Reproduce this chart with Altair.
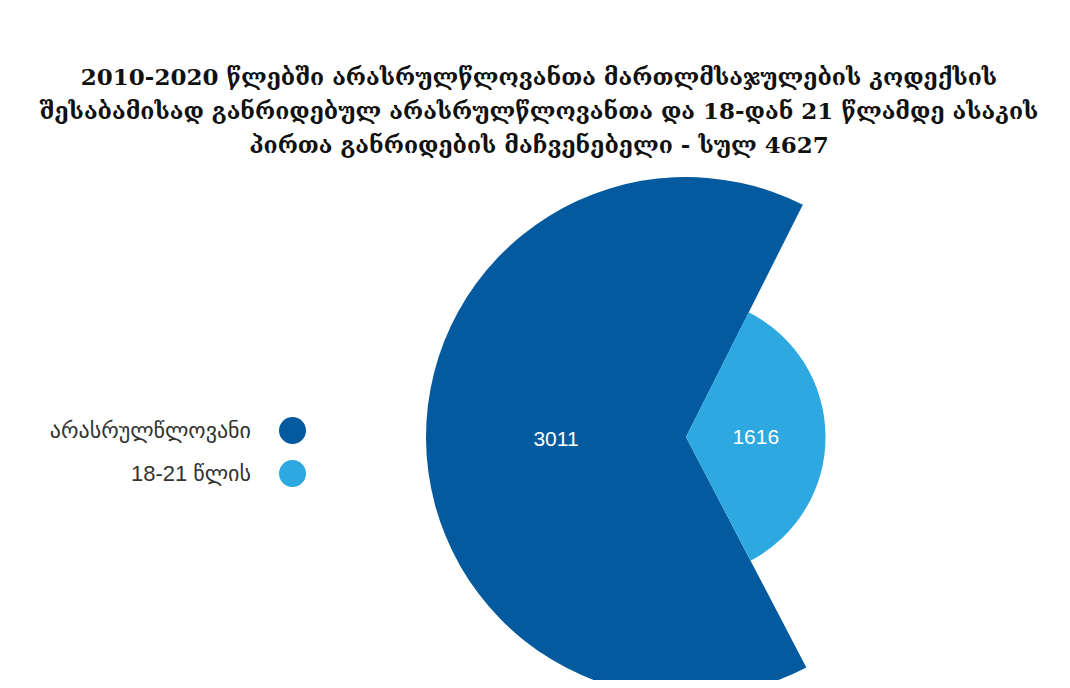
import math
import altair as alt
import pandas as pd

# ---- data ----
categories = ["არასრულწლოვანი", "18-21 წლის"]
values = [3011, 1616]
stack_order = [2, 1]          # light slice drawn first (clockwise from start angle)
colors = ["#035A9E", "#2EA8E0"]
title_lines = [
    "2010-2020 წლებში არასრულწლოვანთა მართლმსაჯულების კოდექსის",
    "შესაბამისად განრიდებულ არასრულწლოვანთა და 18-დან 21 წლამდე ასაკის",
    "პირთა განრიდების მაჩვენებელი - სულ 4627",
]

df = pd.DataFrame({"cat": categories, "value": values, "ord": stack_order})

start = math.radians(26.7)
theta_scale = alt.Scale(range=[start, start + 2 * math.pi])
radius_scale = alt.Scale(type="linear", zero=True, range=[0, 260])

CX, CY = 678, 279

arcs = alt.Chart(df).mark_arc().encode(
    theta=alt.Theta("value:Q", stack=True, scale=theta_scale),
    order=alt.Order("ord:Q"),
    x=alt.value(CX),
    y=alt.value(CY),
    radius=alt.Radius("value:Q", scale=radius_scale),
    color=alt.Color(
        "cat:N",
        scale=alt.Scale(domain=categories, range=colors),
        legend=alt.Legend(
            title=None,
            orient="none",
            legendX=271,
            legendY=259,
            symbolType="circle",
            symbolSize=729,
            symbolStrokeWidth=0,
            symbolOpacity=1,
            labelFont="Liberation Sans, DejaVu Sans",
            labelFontSize=22,
            labelColor="#333333",
            labelAlign="right",
            labelOffset={"expr": "-55"},
            labelLimit=400,
            rowPadding=16,
            padding=0,
        ),
    ),
)

labels = (
    alt.Chart(df)
    .transform_window(cum="sum(value)", sort=[alt.SortField("ord")], frame=[None, 0])
    .transform_calculate(mid="datum.cum - datum.value / 2", half="datum.value / 2")
    .mark_text(font="Liberation Sans, DejaVu Sans", fontSize=21, color="white", dy=2)
    .encode(
        theta=alt.Theta("mid:Q", stack=False, scale=theta_scale),
        radius=alt.Radius("half:Q", scale=radius_scale),
        x=alt.value(CX),
        y=alt.value(CY),
        text=alt.Text("value:Q"),
    )
)

chart = (
    alt.layer(arcs, labels)
    .properties(
        width=1054,
        height=522,
        autosize=alt.AutoSizeParams(type="none"),
        padding={"top": 150, "left": 0, "right": 0, "bottom": 0},
        title=alt.Title(
            text=title_lines,
            font="DejaVu Serif",
            fontSize=23,
            fontWeight="bold",
            lineHeight=34,
            color="#111111",
            anchor="middle",
            dx=4,
            offset=0,
        ),
    )
    .configure_view(stroke=None)
)

chart.save("out.html", embed_options={"renderer": "svg", "actions": False})
